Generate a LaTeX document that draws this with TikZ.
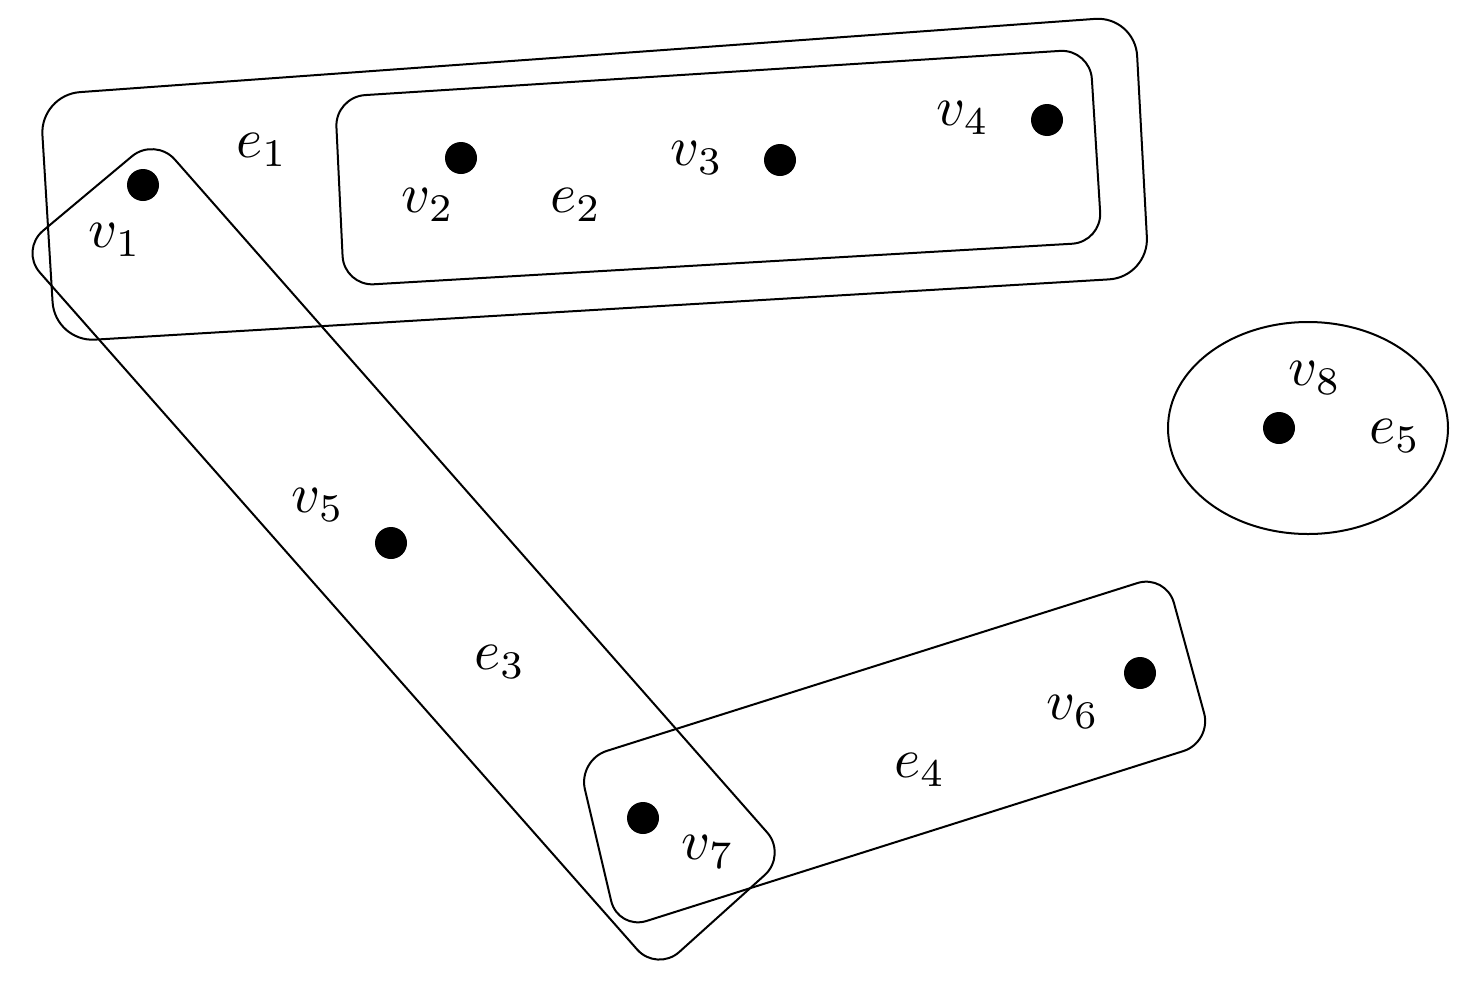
\documentclass[tikz,border=0pt]{standalone}
\begin{document}
\begin{tikzpicture}[x=1pt,y=-1pt,
  edge/.style={draw,line width=2pt,rounded corners=30pt},
  vtx/.style={circle,fill=black,inner sep=0pt,minimum size=32pt},
  lab/.style={scale=5.6,inner sep=0pt}]
\useasboundingbox (0,0) rectangle (1466,1004);
\draw[edge,rounded corners=40pt] (40,95) -- (1135,16) -- (1149,277) -- (55,342) -- cycle;
\draw[edge] (335,97) -- (1090,49) -- (1102,242) -- (344,286) -- cycle;
\draw[edge] (20,250) -- (155,137) -- (787,855) -- (657,972) -- cycle;
\draw[edge] (578,760) -- (1166,574) -- (1212,742) -- (618,930) -- cycle;
\draw[line width=2pt] (1308,428) ellipse [x radius=140, y radius=106];
\node[vtx] (v1) at (143,185) {};
\node[vtx] (v2) at (461,158) {};
\node[vtx] (v3) at (780,160) {};
\node[vtx] (v4) at (1047,120) {};
\node[vtx] (v5) at (391,543) {};
\node[vtx] (v6) at (1140,673) {};
\node[vtx] (v7) at (643,818) {};
\node[vtx] (v8) at (1279,428) {};
\node[lab] (l1) at (115,240) {$v_1$};
\node[lab] (l2) at (428,205) {$v_2$};
\node[lab] (l3) at (697,158) {$v_3$};
\node[lab] (l4) at (963,118) {$v_4$};
\node[lab] (l5) at (318,505) {$v_5$};
\node[lab] (l6) at (1073,712) {$v_6$};
\node[lab] (l7) at (708,852) {$v_7$};
\node[lab] (l8) at (1315,378) {$v_8$};
\node[lab] (a1) at (262,150) {$e_1$};
\node[lab] (a2) at (576,205) {$e_2$};
\node[lab] (a3) at (500,662) {$e_3$};
\node[lab] (a4) at (920,770) {$e_4$};
\node[lab] (a5) at (1395,436) {$e_5$};
\end{tikzpicture}
\end{document}
